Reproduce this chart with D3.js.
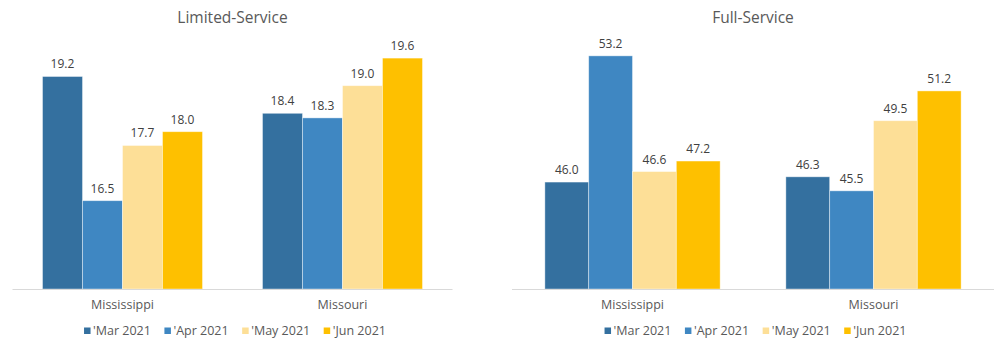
<!DOCTYPE html>
<html>
<head>
<meta charset="utf-8">
<script src="https://cdn.jsdelivr.net/npm/d3@7"></script>
<style>
  html, body { margin: 0; padding: 0; background: #fff; }
  svg { display: block; }
  text { font-family: "Open Sans", "Noto Sans", sans-serif; }
</style>
</head>
<body>
<svg id="chart" width="995" height="342"></svg>
<script>
// Categories and series
const states = ["Mississippi", "Missouri"];
const months = ["'Mar 2021", "'Apr 2021", "'May 2021", "'Jun 2021"];
const colors = ["#34709f", "#3f87c2", "#fddf97", "#fec000"];

// Limited-Service values, one array per state (Mar..Jun)
const limitedMississippi = [19.2, 16.5, 17.7, 18.0];
const limitedMissouri    = [18.4, 18.3, 19.0, 19.6];

// Full-Service values, one array per state (Mar..Jun)
const fullMississippi = [46.0, 53.2, 46.6, 47.2];
const fullMissouri    = [46.3, 45.5, 49.5, 51.2];

const panels = [
  { title: "Limited-Service", rows: [limitedMississippi, limitedMissouri],
    x: [12.5, 452.5], domain: [14.58, 20], top: 39.7 },
  { title: "Full-Service", rows: [fullMississippi, fullMissouri],
    x: [512, 994], domain: [39.9, 55], top: 24.3 }
];

const svg = d3.select("#chart");
const baseY = 289;

panels.forEach(p => {
  const g = svg.append("g");

  const x0 = d3.scaleBand().domain(states).range(p.x)
    .paddingInner(0.2727).paddingOuter(0.1364);
  const x1 = d3.scaleBand().domain(d3.range(months.length))
    .range([0, x0.bandwidth()]);
  const y = d3.scaleLinear().domain(p.domain).range([baseY, p.top]);
  const cx = (p.x[0] + p.x[1]) / 2;

  // title
  g.append("text")
    .attr("x", cx).attr("y", 23)
    .attr("text-anchor", "middle")
    .attr("font-size", 15.5)
    .attr("fill", "#595959")
    .text(p.title);

  const groups = g.selectAll("g.state")
    .data(states.map((s, i) => ({ state: s, values: p.rows[i] })))
    .join("g")
    .attr("transform", d => `translate(${x0(d.state)},0)`);

  groups.selectAll("rect")
    .data(d => d.values)
    .join("rect")
    .attr("x", (v, i) => x1(i))
    .attr("y", v => y(v))
    .attr("width", x1.bandwidth())
    .attr("height", v => baseY - y(v))
    .attr("fill", (v, i) => colors[i])
    .attr("stroke", "#ffffff")
    .attr("stroke-opacity", 0.5)
    .attr("stroke-width", 0.8);

  groups.selectAll("text.val")
    .data(d => d.values)
    .join("text")
    .attr("class", "val")
    .attr("x", (v, i) => x1(i) + x1.bandwidth() / 2)
    .attr("y", v => y(v) - 8)
    .attr("text-anchor", "middle")
    .attr("font-size", 12)
    .attr("fill", "#404040")
    .text(v => v.toFixed(1));

  // category axis
  const axis = g.append("g")
    .attr("transform", `translate(0,${baseY})`)
    .call(d3.axisBottom(x0).tickSize(0).tickPadding(11));
  axis.select(".domain").attr("stroke", "#d9d9d9").attr("stroke-width", 1)
    .attr("d", `M${p.x[0]},0.5H${p.x[1]}`);
  axis.selectAll(".tick text")
    .attr("font-size", 12.5)
    .attr("fill", "#595959")
    .style("font-family", "'Open Sans', 'Noto Sans', sans-serif");

  // legend
  const leg = g.append("g");
  const items = leg.selectAll("g").data(months).join("g");
  items.append("rect")
    .attr("width", 6.5).attr("height", 6.5)
    .attr("y", -7.5)
    .attr("fill", (d, i) => colors[i]);
  items.append("text")
    .attr("x", 9)
    .attr("y", 0)
    .attr("font-size", 12.5)
    .attr("fill", "#595959")
    .text(d => d);
  let off = 0;
  const gap = 13.5;
  items.each(function() {
    const w = this.getBBox().width;
    d3.select(this).attr("transform", `translate(${off},0)`);
    off += w + gap;
  });
  const total = off - gap;
  leg.attr("transform", `translate(${cx + 2.5 - total / 2},335)`);
});
</script>
</body>
</html>
